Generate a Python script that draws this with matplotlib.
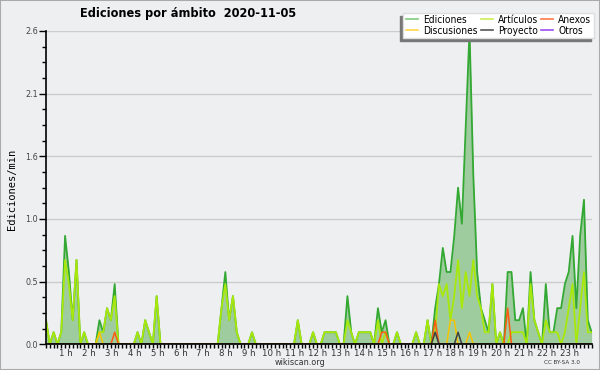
import numpy as np
import matplotlib
matplotlib.use("Agg")
from matplotlib import pyplot as plt
from matplotlib import transforms
from matplotlib.lines import Line2D
from matplotlib.patches import Rectangle

# ediciones/min, media por tramo de 10 min (00:00 ... 23:50), una fila = 2 horas
ediciones = [
    0.2, 0.0, 0.1, 0.0, 0.1, 0.9, 0.6, 0.2, 0.7, 0.0, 0.1, 0.0,
    0.0, 0.0, 0.2, 0.1, 0.3, 0.2, 0.5, 0.0, 0.0, 0.0, 0.0, 0.0,
    0.1, 0.0, 0.2, 0.1, 0.0, 0.4, 0.0, 0.0, 0.0, 0.0, 0.0, 0.0,
    0.0, 0.0, 0.0, 0.0, 0.0, 0.0, 0.0, 0.0, 0.0, 0.0, 0.3, 0.6,
    0.2, 0.4, 0.1, 0.0, 0.0, 0.0, 0.1, 0.0, 0.0, 0.0, 0.0, 0.0,
    0.0, 0.0, 0.0, 0.0, 0.0, 0.0, 0.2, 0.0, 0.0, 0.0, 0.1, 0.0,
    0.0, 0.1, 0.1, 0.1, 0.1, 0.0, 0.0, 0.4, 0.1, 0.0, 0.1, 0.1,
    0.1, 0.1, 0.0, 0.3, 0.1, 0.2, 0.0, 0.0, 0.1, 0.0, 0.0, 0.0,
    0.0, 0.1, 0.0, 0.0, 0.2, 0.0, 0.3, 0.5, 0.8, 0.6, 0.6, 0.9,
    1.3, 1.0, 1.8, 2.6, 1.4, 0.6, 0.3, 0.2, 0.1, 0.5, 0.0, 0.1,
    0.0, 0.6, 0.6, 0.2, 0.2, 0.3, 0.0, 0.6, 0.2, 0.1, 0.0, 0.5,
    0.1, 0.1, 0.3, 0.3, 0.5, 0.6, 0.9, 0.3, 0.9, 1.2, 0.2, 0.1,
]
articulos = [
    0.2, 0.0, 0.1, 0.0, 0.1, 0.7, 0.5, 0.2, 0.7, 0.0, 0.1, 0.0,
    0.0, 0.0, 0.1, 0.1, 0.3, 0.2, 0.4, 0.0, 0.0, 0.0, 0.0, 0.0,
    0.1, 0.0, 0.2, 0.1, 0.0, 0.4, 0.0, 0.0, 0.0, 0.0, 0.0, 0.0,
    0.0, 0.0, 0.0, 0.0, 0.0, 0.0, 0.0, 0.0, 0.0, 0.0, 0.3, 0.5,
    0.2, 0.4, 0.1, 0.0, 0.0, 0.0, 0.1, 0.0, 0.0, 0.0, 0.0, 0.0,
    0.0, 0.0, 0.0, 0.0, 0.0, 0.0, 0.2, 0.0, 0.0, 0.0, 0.1, 0.0,
    0.0, 0.1, 0.1, 0.1, 0.1, 0.0, 0.0, 0.2, 0.1, 0.0, 0.1, 0.1,
    0.1, 0.1, 0.0, 0.2, 0.0, 0.1, 0.0, 0.0, 0.1, 0.0, 0.0, 0.0,
    0.0, 0.1, 0.0, 0.0, 0.2, 0.0, 0.1, 0.5, 0.4, 0.5, 0.2, 0.4,
    0.7, 0.3, 0.6, 0.4, 0.7, 0.4, 0.3, 0.1, 0.1, 0.5, 0.0, 0.1,
    0.0, 0.0, 0.1, 0.1, 0.1, 0.1, 0.0, 0.5, 0.2, 0.1, 0.0, 0.2,
    0.1, 0.1, 0.1, 0.0, 0.1, 0.3, 0.5, 0.0, 0.3, 0.6, 0.1, 0.1,
]
# series casi vacias: solo los tramos distintos de cero
discusiones = {"02:20": 0.1, "17:40": 0.2, "17:50": 0.2, "18:30": 0.1}
anexos = {"03:00": 0.1, "14:40": 0.1, "14:50": 0.1, "17:00": 0.2, "20:10": 0.3}
proyecto = {"17:00": 0.1, "18:00": 0.1}
otros = {}

hour_ticks = list(range(1, 24))
hour_labels = [f"{h} h" for h in hour_ticks]

plt.rcParams["font.stretch"] = "condensed"

BG = "#eeeff1"
n = len(ediciones)
x = np.arange(n) / 6.0


def expand(d):
    out = np.zeros(n)
    for k, v in d.items():
        hh, mm = k.split(":")
        out[int(hh) * 6 + int(mm) // 10] = v
    return out


fig = plt.figure(figsize=(6, 3.7), dpi=100, facecolor=BG)
ax = fig.add_axes([46 / 600, (370 - 344.3) / 370, 545.6 / 600, 313.3 / 370])
ax.set_facecolor(BG)

ax.fill_between(x, ediciones, color="#9fcc9f", lw=0, zorder=2)
ax.plot(x, ediciones, color="#33a833", lw=1.3, zorder=3)
ax.plot(x, articulos, color="#a8e80a", lw=1.3, zorder=4)
ax.plot(x, expand(discusiones), color="#f5c400", lw=1.1, zorder=5)
ax.plot(x, expand(anexos), color="#ff5a10", lw=1.1, zorder=6)
ax.plot(x, expand(proyecto), color="#404040", lw=1.1, zorder=7)
ax.plot(x, expand(otros), color="#9a4ff0", lw=1.1, zorder=1, alpha=0)

ax.set_xlim(0, (n - 1) / 6.0)
ax.set_ylim(0, 2.6)

yt = np.arange(6) * 0.52
ax.set_yticks(yt)
ax.set_yticklabels([f"{v:.1f}" for v in yt])
ax.set_yticks(np.arange(21) * 0.13, minor=True)
ax.set_xticks(hour_ticks)
ax.set_xticklabels(hour_labels)
ax.set_xticks(x, minor=True)

ax.tick_params(axis="y", which="major", length=5, width=1, labelsize=6.5,
               labelcolor="#444444", pad=1)
ax.tick_params(axis="y", which="minor", length=3, width=1)
ax.tick_params(axis="x", which="both", length=3, width=1, labelsize=6.8,
               labelcolor="#333333", pad=0.5)
shift = transforms.ScaledTranslation(-3 / 100, 0, fig.dpi_scale_trans)
for lab in ax.get_xticklabels():
    lab.set_transform(lab.get_transform() + shift)

ax.yaxis.grid(True, color="#cccccc", lw=1, zorder=0)
ax.set_axisbelow(True)
for s in ["top", "right"]:
    ax.spines[s].set_visible(False)
for s in ["left", "bottom"]:
    ax.spines[s].set_linewidth(1.2)
    ax.spines[s].set_zorder(10)

fig.text(188 / 600, 1 - 14 / 370, "Ediciones por ámbito  2020-11-05",
         ha="center", va="center", fontsize=9.1, fontweight="bold")
fig.text(12 / 600, 1 - 189 / 370, "Ediciones/min", rotation=90,
         family="DejaVu Sans Mono", fontsize=7.5, ha="center", va="center")
fig.text(300 / 600, 1 - 362.5 / 370, "wikiscan.org", ha="center", va="center",
         fontsize=6.5, color="#333333")
fig.text(562 / 600, 1 - 363 / 370, "CC BY-SA 3.0", ha="center", va="center",
         fontsize=4.5, color="#333333")

handles = [
    Line2D([], [], color="#80cc80", lw=1.2),
    Line2D([], [], color="#ffd84a", lw=1.2),
    Line2D([], [], color="#cdef55", lw=1.2),
    Line2D([], [], color="#555555", lw=1.2),
    Line2D([], [], color="#ff7a48", lw=1.2),
    Line2D([], [], color="#9a4ff0", lw=1.2),
]
labels = ["Ediciones", "Discusiones", "Artículos", "Proyecto", "Anexos", "Otros"]
leg = ax.legend(handles, labels, ncol=3, loc="upper right",
                bbox_to_anchor=(594 / 600, 1 - 12.5 / 370),
                bbox_transform=fig.transFigure, fontsize=7.3, frameon=True,
                fancybox=False, framealpha=1, facecolor="white",
                edgecolor="#dddddd", handlelength=1.2, handletextpad=0.5,
                columnspacing=0.3, labelspacing=0.05, borderpad=0.25,
                borderaxespad=0,
                shadow={"ox": -2.2, "oy": -2.2, "facecolor": "#777777",
                        "edgecolor": "#777777", "alpha": 1})
leg.set_zorder(20)

fig.patches.append(Rectangle((0, 0), 1, 1, transform=fig.transFigure,
                             fill=False, edgecolor="#aaaaaa", lw=1.5))

fig.savefig("out.png", dpi=100, facecolor=BG)
